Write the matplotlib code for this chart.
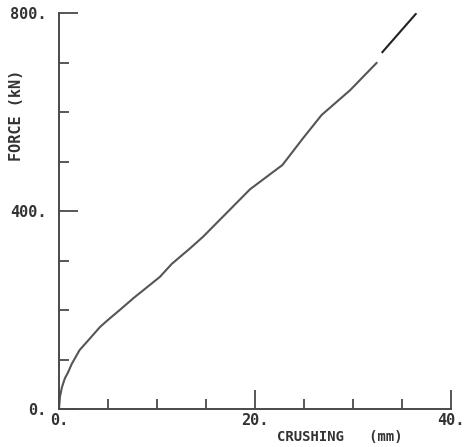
import numpy as np
import matplotlib
matplotlib.use("Agg")
import matplotlib.pyplot as plt

# crushing (mm) vs force (kN)
crush = [0.0, 0.1, 0.3, 0.6, 0.9, 1.3, 2.1, 3.0, 4.2, 5.0, 6.2, 7.6, 10.3,
         11.5, 13.4, 14.7, 17.1, 19.5, 22.8, 24.9, 26.8, 29.7, 32.4]
force = [0, 25, 44, 62, 73, 91, 119, 139, 166, 180, 200, 224, 267,
         293, 325, 348, 396, 444, 493, 547, 594, 644, 699]
# last piece, drawn darker
crush_end = [33.0, 36.4]
force_end = [721, 798]

xticks = [0, 20, 40]
xlabels = ["0.", "20.", "40."]
yticks = [0, 400, 800]
ylabels = ["0.", "400.", "800."]

plt.rcParams['font.family'] = ['DejaVu Sans Mono']
col = "#4a4a4a"

fig = plt.figure(figsize=(4.67, 4.47), dpi=100)
ax = fig.add_axes([59 / 467, 38 / 447, 392 / 467, 396 / 447])

ax.plot(crush, force, color="#555555", lw=1.5)
ax.plot(crush_end, force_end, color="#222222", lw=1.5)

ax.set_xlim(0, 40)
ax.set_ylim(0, 800)
ax.spines['top'].set_visible(False)
ax.spines['right'].set_visible(False)
for s in ['left', 'bottom']:
    ax.spines[s].set_color(col)
    ax.spines[s].set_linewidth(1.4)

ax.set_xticks(xticks)
ax.set_xticklabels(xlabels)
ax.set_yticks(yticks)
ax.set_yticklabels(ylabels)
ax.set_xticks(np.arange(0, 41, 5), minor=True)
ax.set_yticks(np.arange(0, 801, 100), minor=True)
ax.tick_params(which='major', direction='in', length=14, width=1.3, color=col,
               labelsize=11, labelcolor="#333333", pad=3)
ax.tick_params(which='minor', direction='in', length=7, width=1.3, color=col)
ax.tick_params(axis='y', which='major', pad=9)
for t in ax.get_xticklabels() + ax.get_yticklabels():
    t.set_fontweight('bold')

fig.text(340 / 467, 1 - 437 / 447, "CRUSHING   (mm)", ha='center', va='center',
         fontsize=10, fontweight='bold', color="#333333")
fig.text(17 / 467, 1 - 115 / 447, "FORCE (kN)", ha='center', va='center',
         rotation=90, fontsize=11, fontweight='bold', color="#333333")

fig.savefig("out.png", dpi=100)
